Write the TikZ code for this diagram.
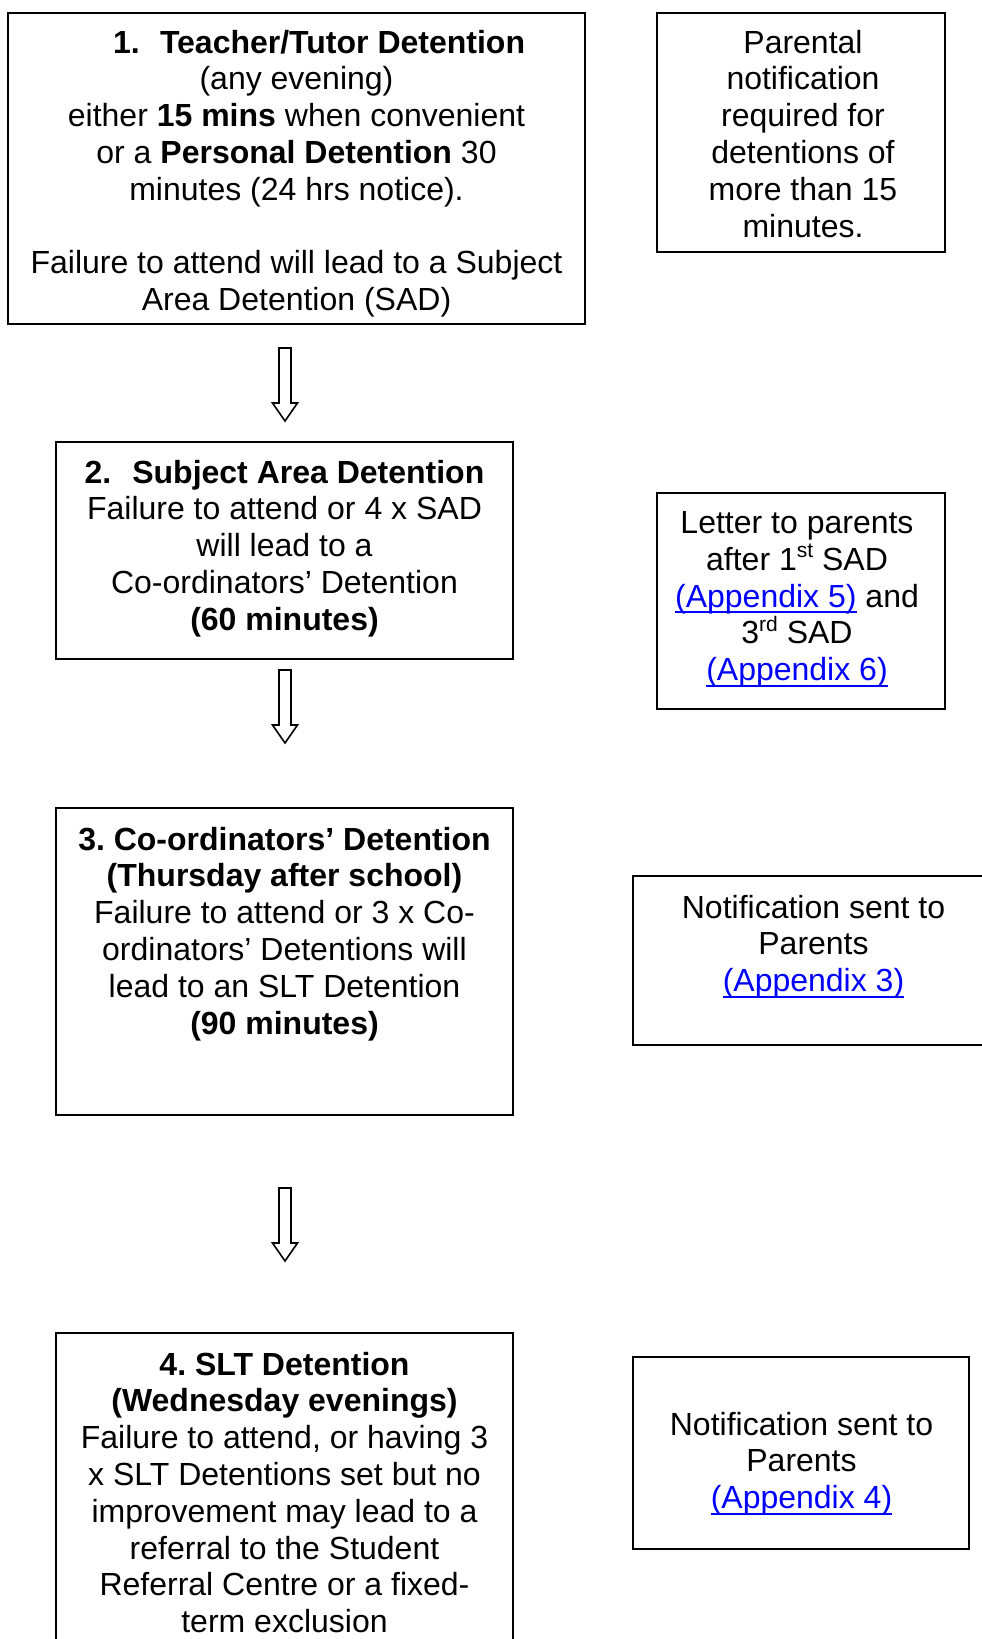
\documentclass[tikz,border=0pt]{standalone}
\usepackage{fontspec}
\setmainfont{Liberation Sans}
\frenchspacing
\definecolor{linkblue}{RGB}{0,0,255}
\newsavebox\lnkbox
\newcommand{\lnk}[1]{\textcolor{linkblue}{\sbox\lnkbox{#1}\rlap{\rule[-6pt]{\wd\lnkbox}{2pt}}\usebox\lnkbox}}
\newcommand{\supr}[1]{\smash{\raisebox{12.5pt}{\fontsize{21}{21}\selectfont #1}}}
\tikzset{
  box/.style={draw, line width=2pt, anchor=north west, inner sep=0pt, outer sep=0pt},
  txt/.style={align=flush center, inner sep=0pt, outer sep=0pt, anchor=base, font=\fontsize{32}{36.8}\selectfont\frenchspacing},
  arrowline/.style={draw, line width=1.6pt, fill=white, line join=miter},
  blockarrow/.pic={
    \draw[arrowline] (-6,0) -- (-6,55) -- (-12.5,55) -- (0,73) -- (12.5,55) -- (6,55) -- (6,0) -- cycle;
  }
}
\begin{document}
\begin{tikzpicture}[x=1pt,y=-1pt]
\useasboundingbox (0,0) rectangle (982,1639);
\clip (0,0) rectangle (982,1639);
\fill[white] (0,0) rectangle (982,1639);

% box 1
\node[box, minimum width=577pt, minimum height=311pt] (b1) at (8,13) {};
\node[txt, anchor=base west] (t1a) at (113,53) {\bfseries 1.};
\node[txt, anchor=base west] (t1b) at (160,53) {\bfseries Teacher/Tutor Detention};
\node[txt, text width=570pt] (t1) at (296.5,89.8) {(any evening)\\either \textbf{15 mins} when convenient\\or a \textbf{Personal Detention} 30\\minutes (24 hrs notice).\\[36.8pt]Failure to attend will lead to a Subject\\Area Detention (SAD)};

% parental box
\node[box, minimum width=288pt, minimum height=239pt] (p1) at (657,13) {};
\node[txt, text width=280pt] (tp) at (803,53) {Parental\\notification\\required for\\detentions of\\more than 15\\minutes.};

% arrow 1
\coordinate (a1) at (285,348);
\pic at (a1) {blockarrow};

% box 2
\node[box, minimum width=457pt, minimum height=217pt] (b2) at (56,442) {};
\node[txt, text width=450pt] (t2) at (284.5,483) {\textbf{2.\hskip21pt Subject Area Detention}\\Failure to attend or 4 x SAD\\will lead to a\\Co-ordinators’ Detention\\\textbf{(60 minutes)}};

% letter box
\node[box, minimum width=288pt, minimum height=216pt] (l2) at (657,493) {};
\node[txt, text width=280pt] (tl) at (797,533.5) {Letter to parents\\after 1\supr{st} SAD\\\lnk{(Appendix 5)} and\\3\supr{rd} SAD\\\lnk{(Appendix 6)}};

% arrow 2
\coordinate (a2) at (285,670);
\pic at (a2) {blockarrow};

% box 3
\node[box, minimum width=457pt, minimum height=307pt] (b3) at (56,808) {};
\node[txt, text width=450pt] (t3) at (284.5,850) {\textbf{3. Co-ordinators’ Detention}\\\textbf{(Thursday after school)}\\Failure to attend or 3 x Co-\\ordinators’ Detentions will\\lead to an SLT Detention\\\textbf{(90 minutes)}};

% notification 3
\node[box, minimum width=357pt, minimum height=169pt] (n3) at (633,876) {};
\node[txt, text width=340pt] (tn3) at (813.5,918) {Notification sent to\\Parents\\\lnk{(Appendix 3)}};

% arrow 3
\coordinate (a3) at (285,1188);
\pic at (a3) {blockarrow};

% box 4
\node[box, minimum width=457pt, minimum height=400pt] (b4) at (56,1333) {};
\node[txt, text width=450pt] (t4) at (284.5,1375) {\textbf{4. SLT Detention}\\\textbf{(Wednesday evenings)}\\Failure to attend, or having 3\\x SLT Detentions set but no\\improvement may lead to a\\referral to the Student\\Referral Centre or a fixed-\\term exclusion};

% notification 4
\node[box, minimum width=336pt, minimum height=192pt] (n4) at (633,1357) {};
\node[txt, text width=330pt] (tn4) at (801.5,1435) {Notification sent to\\Parents\\\lnk{(Appendix 4)}};
\end{tikzpicture}
\end{document}
